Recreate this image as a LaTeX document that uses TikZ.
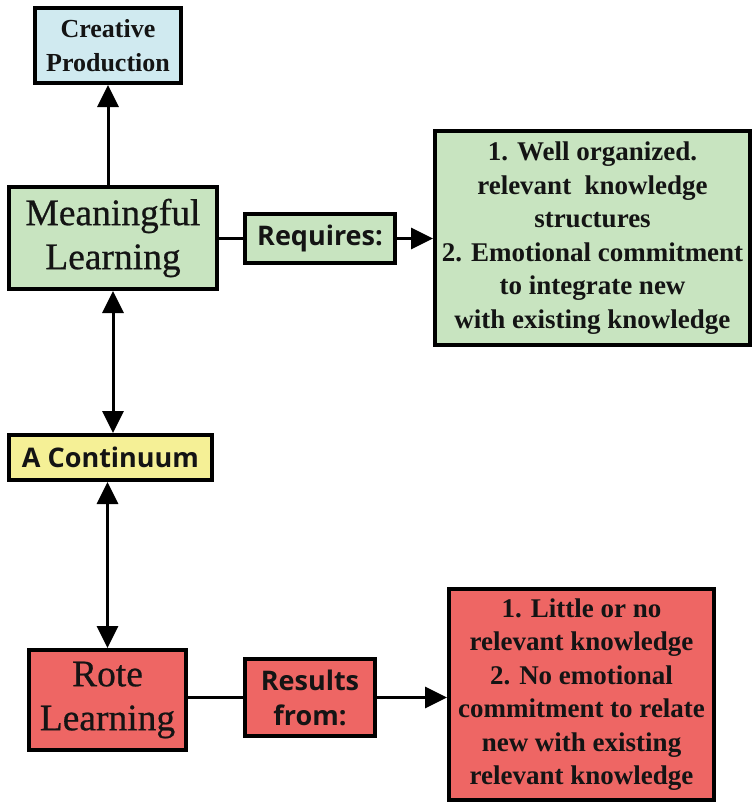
\documentclass[tikz,border=0pt]{standalone}
\usepackage{fontspec}
\setmainfont{Liberation Serif}
\newfontfamily\labelsans{Open Sans}
\newfontfamily\termfont[FakeBold=0.6]{Liberation Serif}
\usetikzlibrary{arrows.meta}

\definecolor{boxblue}{RGB}{208,234,240}
\definecolor{boxgreen}{RGB}{200,228,192}
\definecolor{boxyellow}{RGB}{245,240,150}
\definecolor{boxred}{RGB}{238,102,100}
\definecolor{ink}{RGB}{20,20,20}

\tikzset{
  conceptbox/.style={draw=black, line width=4pt, inner sep=0pt, align=center, text=ink},
  bigterm/.style={conceptbox, font=\termfont\fontsize{37.5}{44}\selectfont},
  listbox/.style={conceptbox, font=\bfseries\fontsize{27}{33.5}\selectfont},
  tagbox/.style={conceptbox, font=\labelsans\bfseries\fontsize{27}{35}\selectfont},
  link/.style={line width=3pt, draw=black},
  arrow/.style={link, -{Triangle[length=22pt,width=21pt]}},
  twoway/.style={link, {Triangle[length=22pt,width=21pt]}-{Triangle[length=22pt,width=21pt]}}
}

\begin{document}
\begin{tikzpicture}[x=1pt, y=-1pt]
  \useasboundingbox[fill=white] (0,0) rectangle (754,803);

  % upper branch: meaningful learning
  \node[conceptbox, fill=boxblue, minimum width=146pt, minimum height=75pt,
        font=\bfseries\fontsize{26}{34}\selectfont] (cp) at (108,45.5)
        {Creative\\Production};
  \node[bigterm, fill=boxgreen, minimum width=208pt, minimum height=102pt] (ml) at (113,238)
        {Meaningful\\Learning};
  \node[tagbox, fill=boxgreen, minimum width=150pt, minimum height=49pt] (rq) at (320,238.5)
        {Requires:};
  \node[listbox, fill=boxgreen, minimum width=315pt, minimum height=214pt] (req) at (592.5,238)
        {1. Well organized.\\relevant\ \ knowledge\\structures\\2. Emotional commitment\\to integrate new\\with existing knowledge};

  % middle
  \node[tagbox, fill=boxyellow, minimum width=203pt, minimum height=45pt] (ac) at (110.5,457.5)
        {A Continuum};

  % lower branch: rote learning
  \node[bigterm, fill=boxred, minimum width=157pt, minimum height=100pt] (rl) at (107.5,700)
        {Rote\\Learning};
  \node[tagbox, fill=boxred, minimum width=130pt, minimum height=77pt] (rs) at (310,697.5)
        {Results\\from:};
  \node[listbox, fill=boxred, minimum width=265pt, minimum height=211pt] (rb) at (581.5,694.5)
        {1. Little or no\\relevant knowledge\\2. No emotional\\commitment to relate\\new with existing\\relevant knowledge};

  % connectors
  \draw[arrow] (ml.north -| cp.south) -- (cp.south);
  \draw[link] (rq.west -| ml.east) -- (rq.west);
  \draw[arrow] (rq.east) -- (rq.east -| req.west);
  \draw[twoway] (ml.south) -- (ml.south |- ac.north);
  \draw[twoway] (ac.south -| rl.north) -- (rl.north);
  \draw[link] (rs.west -| rl.east) -- (rs.west);
  \draw[arrow] (rs.east) -- (rs.east -| rb.west);
\end{tikzpicture}
\end{document}
